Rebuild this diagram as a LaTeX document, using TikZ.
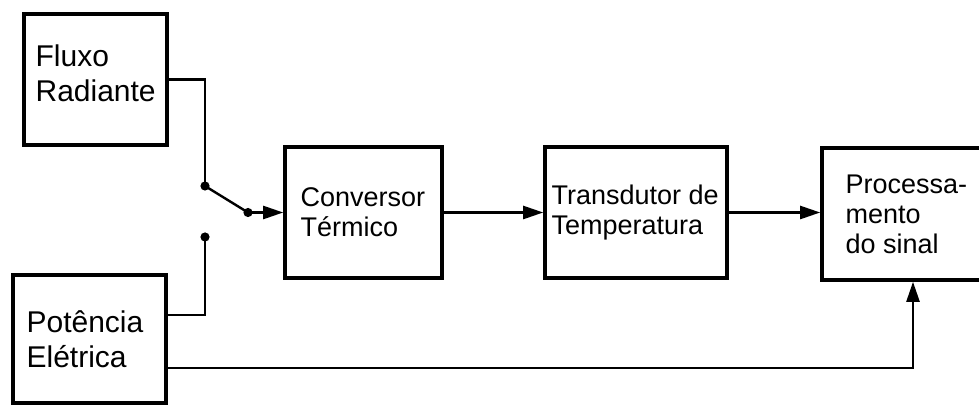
\documentclass[tikz,border=0pt]{standalone}
\usepackage{fontspec}
\setmainfont{Liberation Sans}
\usetikzlibrary{arrows.meta}

\begin{document}
\begin{tikzpicture}[x=0.5pt,y=-0.5pt,
	blk/.style={draw,line width=1.8pt,inner sep=0pt,minimum height=65.5pt},
	txt/.style={anchor=west,align=left,inner sep=0pt},
	big/.style={font=\fontsize{15}{17.5}\selectfont},
	small/.style={font=\fontsize{13.5}{15}\selectfont},
	con/.style={line width=1.2pt},
	arr/.style={con,-{Triangle[length=10pt,width=6.5pt]}}]
	\clip (0,0) rectangle (979,405);
	%========
	%Blocks
	%========
	\node[blk,minimum width=71.5pt] (flux) at (95.5,79.5) {};	%Fluxo Radiante
	\node[blk,minimum width=76.5pt,minimum height=64pt] (pot) at (89.5,339) {};	%Potencia Eletrica
	\node[blk,minimum width=78.5pt] (conv) at (363.5,212.5) {};
	\node[blk,minimum width=91pt] (trans) at (636,212.5) {};
	\node[blk,minimum width=91pt,minimum height=66pt] (proc) at (913,214) {};

	\node[txt,big,xshift=6.5pt,yshift=3pt] (tflux) at (flux.west) {Fluxo\\Radiante};
	\node[txt,big,xshift=7.5pt] (tpot) at (pot.west) {Potência\\Elétrica};
	\node[txt,small,xshift=8.5pt] (tconv) at (conv.west) {Conversor\\Térmico};
	\node[txt,small,xshift=4pt] (ttrans) at (trans.west) {Transdutor de\\Temperatura};
	\node[txt,small,xshift=12.5pt] (tproc) at (proc.west) {Processa-\\mento\\do sinal};

	%========
	%Switch
	%========
	\coordinate (swA) at (205,186);	%upper contact
	\coordinate (swB) at (205,237);	%lower contact
	\coordinate (swC) at (248,212.5);	%lever end
	\fill (swA) circle (2.3pt);
	\fill (swB) circle (2.3pt);
	\fill (swC) circle (2.3pt);
	\draw[con] (swA) -- (swC);

	%========
	%Connectors
	%========
	\draw[con] (flux.east) -| (swA);
	\draw[con] (swB) |- ([yshift=12pt]pot.east);
	\draw[arr] (swC) -- (conv);
	\draw[arr] (conv) -- (trans);
	\draw[arr] (trans.east) -- (trans.east -| proc.west);
	\draw[arr] ([yshift=-14.5pt]pot.east) -| (proc.south);
\end{tikzpicture}
\end{document}
